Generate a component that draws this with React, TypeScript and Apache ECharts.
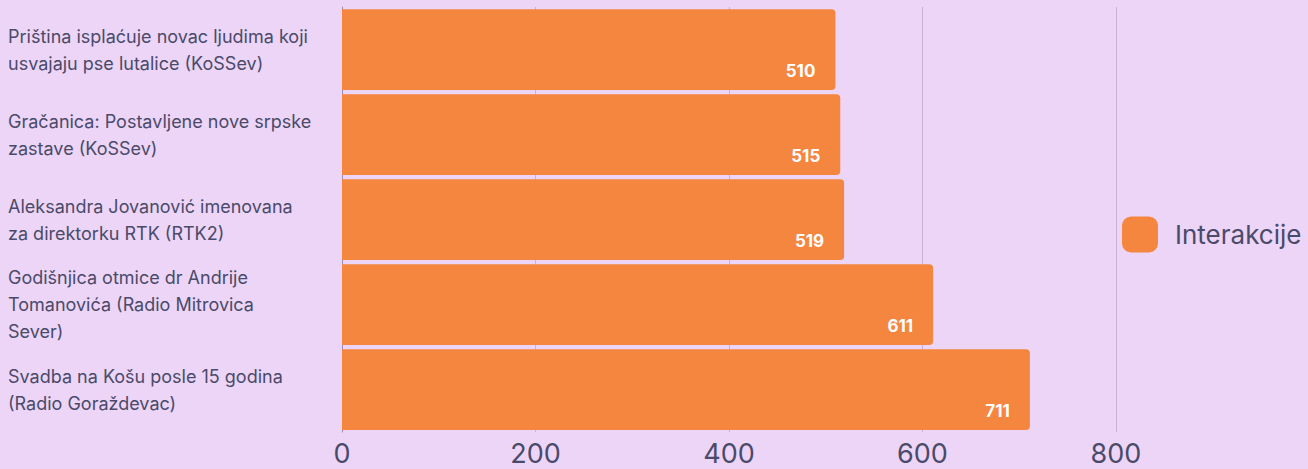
import React, { useEffect, useRef } from "react";
import * as echarts from "echarts";

const categories = [
  "Priština isplaćuje novac ljudima koji\nusvajaju pse lutalice (KoSSev)",
  "Gračanica: Postavljene nove srpske\nzastave (KoSSev)",
  "Aleksandra Jovanović imenovana\nza direktorku RTK (RTK2)",
  "Godišnjica otmice dr Andrije\nTomanovića (Radio Mitrovica\nSever)",
  "Svadba na Košu posle 15 godina\n(Radio Goraždevac)",
];
const values = [510, 515, 519, 611, 711];
const seriesName = "Interakcije";
const xTicks = [0, 200, 400, 600, 800];

export default function App() {
  const ref = useRef<HTMLDivElement>(null);
  useEffect(() => {
    if (!ref.current) return;
    const chart = echarts.init(ref.current, undefined, { renderer: "svg" });
    chart.setOption({
      animation: false,
      backgroundColor: "#EDD5F7",
      textStyle: { fontFamily: "Inter" },
      grid: { left: 342, right: 192, top: 7, bottom: 37, containLabel: false },
      legend: {
        show: true,
        orient: "vertical",
        left: 1117,
        top: "middle",
        itemWidth: 36,
        itemHeight: 36,
        itemGap: 10,
        icon: "roundRect",
        textStyle: { fontSize: 26, color: "#4A4A6A", fontFamily: "Inter", padding: [0, 0, 0, 12] },
        data: [seriesName],
      },
      xAxis: {
        type: "value",
        min: xTicks[0],
        max: xTicks[xTicks.length - 1],
        interval: 200,
        axisLine: { show: false },
        axisTick: { show: false },
        splitLine: { show: true, lineStyle: { color: "#C8B2D6", width: 1 } },
        axisLabel: { fontSize: 27, lineHeight: 27, color: "#4A4A6A", margin: 8, fontFamily: "Inter" },
      },
      yAxis: {
        type: "category",
        inverse: true,
        data: categories,
        axisLine: { show: true, lineStyle: { color: "#9A8FB0" } },
        axisTick: { show: false },
        axisLabel: {
          align: "left",
          margin: 334,
          fontSize: 18,
          lineHeight: 27,
          color: "#4A4A6A",
          fontFamily: "Inter",
        },
      },
      series: [
        {
          name: seriesName,
          type: "bar",
          data: values,
          barCategoryGap: "5%",
          itemStyle: { color: "#F5863F", borderRadius: [0, 4, 4, 0] },
          label: {
            show: true,
            position: "insideBottomRight",
            distance: 10,
            offset: [-10, 0],
            color: "#FFFFFF",
            fontWeight: "bold",
            fontSize: 17,
            fontFamily: "Inter",
          },
        },
      ],
    });
    return () => chart.dispose();
  }, []);
  return <div ref={ref} style={{ position: "absolute", left: 0, top: 0, width: 1308, height: 469 }} />;
}
